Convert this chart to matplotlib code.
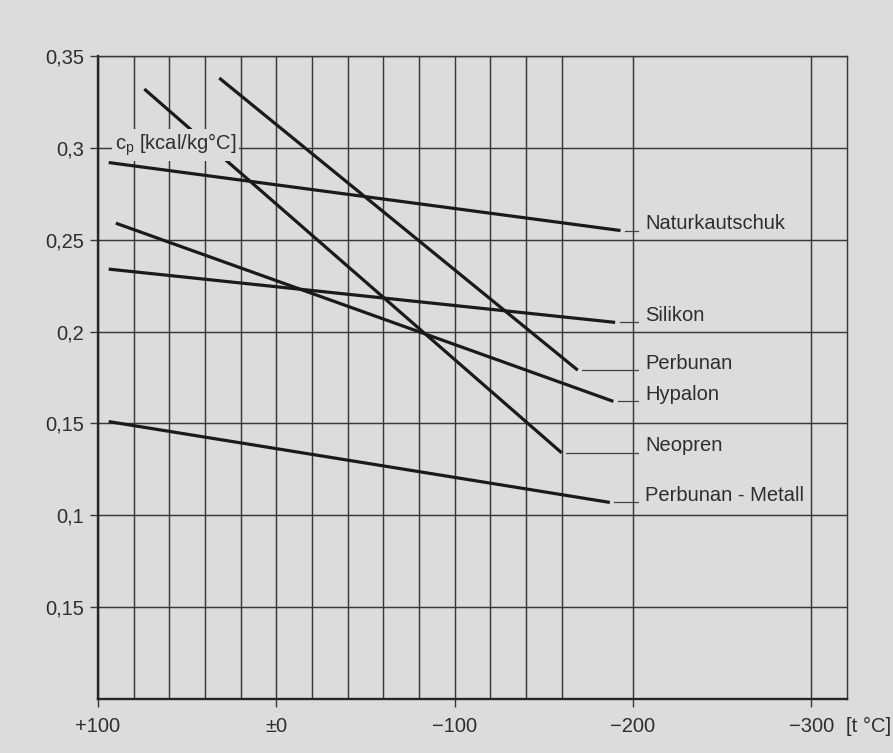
import matplotlib
matplotlib.use("Agg")
import matplotlib.pyplot as plt

plt.rcParams['font.family'] = ['Liberation Sans', 'DejaVu Sans']
plt.rcParams['mathtext.fontset'] = 'custom'
plt.rcParams['mathtext.rm'] = 'Liberation Sans'

# ---- data (temperature in °C, specific heat cp in kcal/kg°C) ----
materials = ["Naturkautschuk", "Silikon", "Perbunan", "Hypalon", "Neopren", "Perbunan - Metall"]
t_start = [94, 94, 32, 90, 74, 94]
t_end = [-193, -190, -169, -189, -160, -187]
cp_start = [0.292, 0.234, 0.338, 0.259, 0.332, 0.151]
cp_end = [0.255, 0.205, 0.179, 0.162, 0.134, 0.107]

x_ticks = [100, 0, -100, -200, -300]
x_ticklabels = ["+100", "±0", "−100", "−200", "−300"]
x_minor = [80, 60, 40, 20, -20, -40, -60, -80, -120, -140, -160]
y_ticks = [0.05, 0.10, 0.15, 0.20, 0.25, 0.30, 0.35]
y_ticklabels = ["0,15", "0,1", "0,15", "0,2", "0,25", "0,3", "0,35"]

BG = "#dcdcdc"
INK = "#1a1a1a"
GRID = "#383838"
TXT = "#2e2e2e"
FS = 14.5

fig = plt.figure(figsize=(8.93, 7.53), dpi=100, facecolor=BG)
ax = fig.add_axes([98 / 893, 1 - 699 / 753, (847 - 98) / 893, (699 - 56) / 753])
ax.set_facecolor(BG)

ax.set_xlim(100, -320)
ax.set_ylim(0, 0.35)

ax.set_xticks(x_ticks)
ax.set_xticklabels(x_ticklabels)
ax.set_xticks(x_minor, minor=True)
ax.set_yticks(y_ticks)
ax.set_yticklabels(y_ticklabels)

ax.tick_params(axis='x', which='major', direction='out', length=6, width=1.0,
               color=GRID, labelsize=FS, labelcolor=TXT, pad=7)
ax.tick_params(axis='x', which='minor', length=0)
ax.tick_params(axis='y', which='major', direction='out', length=6, width=1.0,
               color=GRID, labelsize=FS, labelcolor=TXT, pad=4)

ax.grid(True, which='both', color=GRID, linewidth=1.05, zorder=1)
ax.set_axisbelow(True)

for side in ['left', 'bottom']:
    ax.spines[side].set_linewidth(1.7)
    ax.spines[side].set_color("#262626")
for side in ['top', 'right']:
    ax.spines[side].set_linewidth(1.05)
    ax.spines[side].set_color(GRID)

leader_end = -203
label_x = -207
for name, x0, x1, y0, y1 in zip(materials, t_start, t_end, cp_start, cp_end):
    ax.plot([x0, x1], [y0, y1], color=INK, linewidth=2.3, solid_capstyle='butt', zorder=3)
    ax.plot([x1 - 2.5, leader_end], [y1, y1], color="#444444", linewidth=0.9, zorder=3)
    ax.text(label_x, y1 + 0.0008, name, fontsize=FS, color=TXT, va='baseline', ha='left', zorder=4)

ax.text(90.5, 0.3015, r"$\mathrm{c_p}$ [kcal/kg°C]", fontsize=FS, color=TXT, va='center', ha='left',
        zorder=5, bbox=dict(boxstyle='square,pad=0.15', facecolor=BG, edgecolor='none'))

fig.text(891 / 893, 1 - 726 / 753, "[t °C]", fontsize=FS, color=TXT, va='center', ha='right')

fig.savefig("out.png", dpi=100, facecolor=BG)
